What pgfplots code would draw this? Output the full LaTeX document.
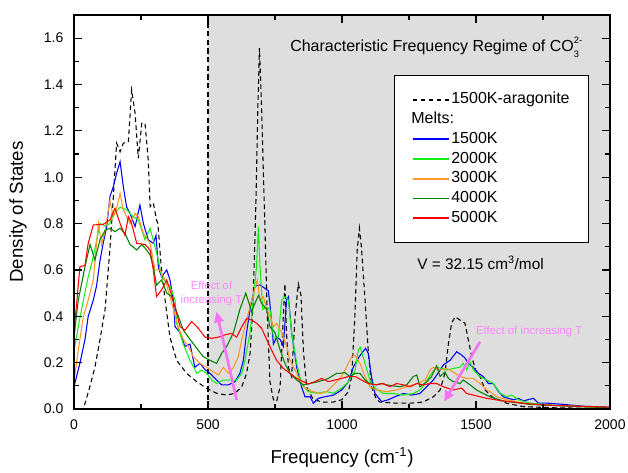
\documentclass[border=0pt]{standalone}
\usepackage{fontspec}
\setmainfont{Liberation Sans}
\usepackage{pgfplots}
\pgfplotsset{compat=1.18}
\usetikzlibrary{arrows.meta}
\definecolor{bgray}{RGB}{222,222,222}
\definecolor{cblue}{RGB}{0,0,255}
\definecolor{clime}{RGB}{20,240,20}
\definecolor{corange}{RGB}{255,150,40}
\definecolor{cdgreen}{RGB}{0,128,0}
\definecolor{cred}{RGB}{255,0,0}
\definecolor{cpink}{RGB}{255,135,255}
\definecolor{carrow}{RGB}{245,115,245}
\begin{document}
\begin{tikzpicture}
\path[use as bounding box] (-55.5pt,-47.25pt) rectangle (415.5pt,306.75pt);
\begin{axis}[
 at={(0,0)}, anchor=south west,
 scale only axis, width=402pt, height=295.5pt,
 xmin=0, xmax=2000, ymin=0, ymax=1.7,
 xtick={0,500,1000,1500,2000}, minor x tick num=1,
 ytick={0,0.2,0.4,0.6,0.8,1.0,1.2,1.4,1.6}, minor y tick num=1,
 tick align=inside,
 major tick length=6pt, minor tick length=3.5pt,
 every tick/.style={black, line width=0.9pt},
 axis line style={line width=1.2pt},
 axis on top=true,
 ticklabel style={font=\fontsize{10.5}{12}\selectfont},
 /pgf/number format/assume math mode=true,
 xticklabel style={/pgf/number format/1000 sep={}, yshift=-4.5pt},
 yticklabel style={/pgf/number format/.cd, fixed, fixed zerofill, precision=1, /tikz/.cd, xshift=-4.5pt},
 xlabel={Frequency (cm\textsuperscript{-1})},
 ylabel={Density of States},
 label style={font=\fontsize{14}{16}\selectfont},
 xlabel style={at={(axis description cs:0.5,-0.124)}, anchor=center},
 ylabel style={at={(axis description cs:-0.1045,0.5)}, anchor=center},
 legend cell align=left,
 legend image code/.code={\draw[#1, line width=1.3pt] (0pt,0pt) -- (27pt,0pt);},
 legend style={at={(axis description cs:0.597,0.848)}, anchor=north west,
   draw=black, line width=0.6pt, fill=white,
   font=\fontsize{12}{14}\selectfont,
   inner xsep=13pt, inner ysep=11pt,
   nodes={text height=9pt, text depth=3pt, inner sep=1.4pt}},
]
\fill[bgray] (axis cs:500,0) rectangle (axis cs:2000,1.7);
\draw[black, line width=0.8pt, dash pattern=on 4pt off 2.5pt] (axis cs:500,0) -- (axis cs:500,1.7);

\addplot[black, line width=0.8pt, dash pattern=on 3.5pt off 2.5pt] coordinates {
(20,0) (35,0.0) (60,0.1) (78,0.18) (97,0.3) (116,0.43) (134,0.69) (146,0.9) (159,1.147) (172,1.11) (184,1.147) (203,1.154) (215,1.377) (228,1.276) (240,1.082) (253,1.233) (265,1.233) (277,1.075) (284,0.873) (296,0.888) (308,0.816) (313,0.8) (325,0.62) (340,0.47) (358,0.31) (383,0.21) (420,0.154) (458,0.118) (495,0.089) (532,0.068) (570,0.06) (601,0.068) (626,0.096) (644,0.154) (657,0.24) (668,0.45) (679,0.9) (686,1.3) (692,1.557) (700,1.3) (706,1.046) (713,0.76) (720,0.45) (731,0.12) (744,0.04) (756,0.032) (769,0.096) (781,0.4) (787,0.54) (793,0.33) (800,0.18) (812,0.14) (825,0.4) (837,0.54) (847,0.49) (856,0.25) (868,0.096) (893,0.04) (930,0.03) (967,0.03) (999,0.04) (1024,0.075) (1036,0.14) (1048,0.4) (1057,0.69) (1065,0.78) (1073,0.69) (1086,0.47) (1098,0.25) (1110,0.096) (1129,0.04) (1142,0.03) (1204,0.025) (1254,0.025) (1303,0.03) (1341,0.053) (1366,0.082) (1384,0.154) (1397,0.28) (1409,0.37) (1422,0.398) (1440,0.384) (1459,0.37) (1471,0.30) (1484,0.226) (1502,0.154) (1515,0.14) (1534,0.082) (1559,0.053) (1614,0.025) (1677,0.01) (1800,0.005) (2000,0.002)
};
\addlegendentry{1500K-aragonite}
\addlegendimage{empty legend}
\addlegendentry{\hspace*{-30pt}Melts:}

\addplot[cblue, line width=0.8pt] coordinates {
(0,0.096) (22,0.197) (41,0.3) (53,0.4) (72,0.47) (84,0.53) (97,0.64) (109,0.715) (122,0.787) (134,0.916) (147,0.96) (159,1.017) (172,1.067) (184,0.96) (196,0.873) (209,0.844) (228,0.787) (246,0.88) (259,0.80) (277,0.73) (296,0.715) (306,0.75) (315,0.61) (327,0.57) (346,0.60) (358,0.557) (371,0.47) (377,0.355) (396,0.33) (414,0.27) (433,0.28) (451,0.18) (470,0.197) (489,0.17) (507,0.154) (532,0.125) (551,0.104) (576,0.104) (601,0.118) (619,0.154) (632,0.21) (644,0.33) (657,0.43) (675,0.53) (694,0.535) (713,0.52) (725,0.51) (731,0.456) (744,0.28) (756,0.31) (769,0.30) (781,0.27) (793,0.47) (800,0.484) (812,0.33) (831,0.18) (849,0.096) (862,0.053) (881,0.053) (893,0.025) (912,0.046) (937,0.053) (968,0.06) (999,0.082) (1024,0.118) (1042,0.18) (1061,0.22) (1073,0.24) (1088,0.262) (1098,0.24) (1110,0.14) (1123,0.067) (1148,0.032) (1173,0.04) (1198,0.053) (1229,0.067) (1260,0.06) (1291,0.067) (1316,0.096) (1341,0.125) (1366,0.168) (1378,0.19) (1403,0.21) (1428,0.247) (1446,0.233) (1459,0.22) (1471,0.197) (1490,0.18) (1509,0.154) (1527,0.14) (1546,0.11) (1565,0.11) (1584,0.075) (1602,0.053) (1620,0.046) (1640,0.04) (1658,0.046) (1677,0.035) (1714,0.046) (1733,0.025) (1770,0.025) (1826,0.02) (1900,0.012) (2000,0.008)
};
\addlegendentry{1500K}

\addplot[clime, line width=0.8pt] coordinates {
(0,0.25) (16,0.355) (35,0.47) (53,0.57) (72,0.657) (97,0.8) (116,0.79) (134,0.8) (147,0.84) (172,0.87) (196,0.86) (221,0.83) (240,0.815) (265,0.73) (284,0.78) (302,0.70) (315,0.643) (327,0.57) (346,0.543) (358,0.53) (377,0.47) (383,0.37) (408,0.28) (433,0.21) (458,0.154) (476,0.168) (495,0.154) (514,0.125) (532,0.11) (557,0.125) (582,0.125) (607,0.125) (626,0.154) (638,0.21) (657,0.33) (669,0.47) (681,0.614) (688,0.787) (694,0.614) (704,0.43) (719,0.44) (731,0.43) (744,0.31) (762,0.31) (775,0.47) (787,0.485) (800,0.47) (812,0.33) (831,0.197) (850,0.104) (874,0.075) (905,0.068) (943,0.075) (968,0.068) (999,0.09) (1024,0.118) (1049,0.168) (1061,0.255) (1068,0.266) (1086,0.197) (1104,0.125) (1123,0.09) (1154,0.067) (1191,0.067) (1229,0.06) (1266,0.067) (1291,0.082) (1310,0.11) (1334,0.154) (1353,0.18) (1372,0.175) (1390,0.168) (1415,0.175) (1440,0.18) (1453,0.197) (1465,0.168) (1478,0.204) (1490,0.168) (1515,0.14) (1540,0.125) (1565,0.11) (1590,0.068) (1614,0.053) (1633,0.06) (1658,0.04) (1702,0.025) (1800,0.015) (2000,0.006)
};
\addlegendentry{2000K}

\addplot[corange, line width=0.8pt] coordinates {
(0,0.118) (16,0.255) (35,0.4) (53,0.47) (72,0.557) (91,0.8) (103,0.71) (116,0.77) (134,0.90) (147,0.83) (159,0.866) (172,0.93) (184,0.86) (209,0.80) (228,0.844) (240,0.83) (259,0.758) (284,0.715) (302,0.60) (321,0.60) (340,0.557) (358,0.485) (371,0.43) (389,0.355) (408,0.30) (427,0.27) (445,0.226) (470,0.197) (495,0.18) (520,0.16) (539,0.147) (557,0.18) (576,0.154) (595,0.18) (613,0.226) (626,0.30) (644,0.384) (663,0.47) (684,0.557) (694,0.47) (707,0.485) (719,0.43) (737,0.384) (744,0.355) (756,0.37) (775,0.33) (793,0.27) (806,0.21) (825,0.168) (843,0.125) (862,0.09) (893,0.075) (918,0.067) (943,0.075) (968,0.104) (993,0.132) (1017,0.18) (1036,0.226) (1049,0.233) (1067,0.197) (1086,0.14) (1104,0.096) (1129,0.082) (1166,0.075) (1204,0.082) (1241,0.096) (1279,0.11) (1310,0.125) (1328,0.168) (1341,0.18) (1366,0.168) (1390,0.175) (1415,0.16) (1440,0.14) (1465,0.132) (1490,0.132) (1515,0.11) (1540,0.082) (1552,0.075) (1577,0.053) (1614,0.04) (1700,0.02) (2000,0.005)
};
\addlegendentry{3000K}

\addplot[cdgreen, line width=0.8pt] coordinates {
(0,0.31) (16,0.47) (41,0.614) (60,0.71) (78,0.643) (97,0.73) (116,0.77) (134,0.78) (153,0.765) (172,0.78) (190,0.758) (209,0.71) (234,0.686) (253,0.71) (271,0.686) (284,0.665) (296,0.614) (308,0.535) (327,0.557) (346,0.50) (364,0.485) (383,0.42) (408,0.34) (433,0.30) (458,0.262) (482,0.226) (507,0.21) (532,0.197) (551,0.24) (570,0.27) (595,0.33) (619,0.43) (641,0.5) (663,0.42) (675,0.456) (688,0.49) (700,0.456) (719,0.43) (731,0.355) (750,0.33) (769,0.255) (787,0.197) (806,0.154) (831,0.125) (856,0.104) (881,0.11) (912,0.118) (949,0.132) (980,0.154) (993,0.154) (1011,0.157) (1030,0.14) (1049,0.154) (1067,0.154) (1086,0.125) (1104,0.11) (1129,0.104) (1148,0.11) (1166,0.104) (1191,0.1) (1216,0.096) (1241,0.104) (1266,0.14) (1279,0.147) (1291,0.096) (1316,0.118) (1334,0.14) (1353,0.186) (1366,0.14) (1384,0.16) (1397,0.132) (1415,0.118) (1440,0.11) (1453,0.125) (1478,0.104) (1502,0.082) (1527,0.067) (1552,0.053) (1600,0.035) (1700,0.02) (2000,0.005)
};
\addlegendentry{4000K}

\addplot[cred, line width=0.8pt] coordinates {
(0,0.34) (10,0.456) (22,0.614) (41,0.62) (53,0.715) (72,0.794) (109,0.797) (134,0.815) (153,0.866) (172,0.8) (190,0.75) (203,0.83) (215,0.8) (234,0.715) (265,0.71) (284,0.686) (296,0.6) (308,0.485) (327,0.514) (346,0.557) (358,0.514) (377,0.44) (396,0.355) (414,0.34) (439,0.377) (464,0.348) (489,0.31) (514,0.305) (539,0.31) (563,0.32) (588,0.326) (607,0.31) (626,0.355) (644,0.39) (663,0.384) (681,0.37) (700,0.348) (719,0.3) (737,0.255) (756,0.21) (781,0.175) (806,0.154) (831,0.132) (856,0.118) (874,0.108) (899,0.118) (924,0.132) (949,0.118) (974,0.125) (999,0.132) (1024,0.14) (1049,0.14) (1073,0.125) (1098,0.11) (1123,0.104) (1154,0.11) (1179,0.096) (1204,0.11) (1229,0.104) (1254,0.096) (1279,0.11) (1303,0.104) (1328,0.11) (1353,0.11) (1378,0.096) (1415,0.082) (1446,0.09) (1465,0.067) (1490,0.06) (1515,0.053) (1540,0.046) (1600,0.035) (1700,0.022) (1800,0.015) (2000,0.008)
};
\addlegendentry{5000K}

\node[anchor=west, font=\fontsize{12}{14}\selectfont, inner sep=0pt] at (axis cs:806,1.562)
 {Characteristic Frequency Regime of CO\rlap{\raisebox{1.0ex}{\fontsize{7}{8}\selectfont 2-}}\raisebox{-0.65ex}{\fontsize{7}{8}\selectfont 3}};
\node[anchor=west, font=\fontsize{11.5}{13}\selectfont, inner sep=0pt] at (axis cs:1280,0.63)
 {V = 32.15 cm\textsuperscript{3}/mol};
\node[align=center, text=cpink, font=\fontsize{8.5}{10.5}\selectfont, inner sep=0pt] at (axis cs:513,0.498)
 {Effect of\\increasing T};
\node[anchor=west, text=cpink, font=\fontsize{8.5}{10}\selectfont, inner sep=0pt] at (axis cs:1499,0.332)
 {Effect of increasing T};
\draw[carrow, line width=2pt, -{Triangle[length=8pt,width=7pt]}] (axis cs:607,0.039) -- (axis cs:532,0.42);
\draw[carrow, line width=2pt, -{Triangle[length=8pt,width=7pt]}] (axis cs:1515,0.29) -- (axis cs:1381,0.032);
\end{axis}
\end{tikzpicture}
\end{document}
